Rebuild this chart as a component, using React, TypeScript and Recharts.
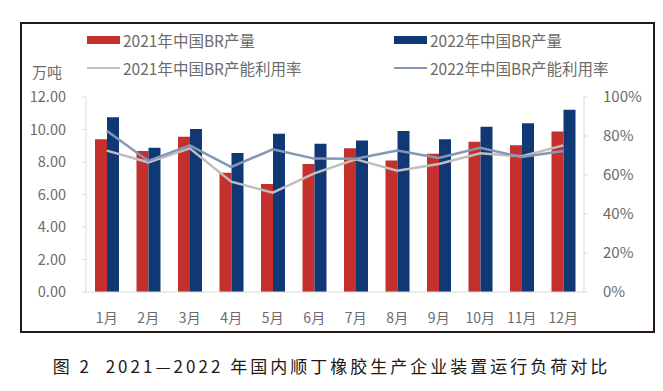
import React from 'react'
import {
  ComposedChart,
  Bar,
  Line,
  XAxis,
  YAxis,
} from 'recharts'

// Monthly BR output (10k t) and capacity utilisation (%)
const MONTHS = ['1月', '2月', '3月', '4月', '5月', '6月', '7月', '8月', '9月', '10月', '11月', '12月']
const OUTPUT_2021 = [9.4, 8.68, 9.56, 7.34, 6.65, 7.88, 8.84, 8.1, 8.51, 9.25, 9.03, 9.87]
const OUTPUT_2022 = [10.75, 8.88, 10.03, 8.55, 9.74, 9.13, 9.33, 9.91, 9.4, 10.17, 10.38, 11.22]
const UTIL_2021 = [72.5, 66.5, 73.7, 56.6, 50.9, 60.8, 68.0, 62.2, 65.6, 71.1, 69.6, 75.2]
const UTIL_2022 = [82.7, 67.2, 75.2, 64.1, 73.2, 68.4, 68.3, 72.5, 68.7, 74.0, 69.2, 72.3]
const LEFT_TICKS = [0, 2, 4, 6, 8, 10, 12]
const RIGHT_TICKS = [0, 20, 40, 60, 80, 100]

const RED = '#c4302b'
const NAVY = '#0f3875'
const GRAY_LINE = '#bfbfbf'
const BLUE_LINE = '#8497b6'
const TEXT = '#6b6b6b'
const FONT = '"Noto Sans CJK SC", "Noto Sans", sans-serif'

const data = MONTHS.map((m, i) => ({
  month: m,
  out21: OUTPUT_2021[i],
  out22: OUTPUT_2022[i],
  util21: UTIL_2021[i],
  util22: UTIL_2022[i],
}))

function LegendItem({ x, y, label, color, line }: { x: number; y: number; label: string; color: string; line?: boolean }) {
  return (
    <div style={{ position: 'absolute', left: x, top: y - 10, height: 20, display: 'flex', alignItems: 'center' }}>
      <span
        style={{
          display: 'inline-block',
          width: 33,
          height: line ? 2.5 : 8,
          backgroundColor: color,
          marginRight: 3,
        }}
      />
      <span style={{ fontSize: 15.5, color: TEXT, whiteSpace: 'nowrap' }}>{label}</span>
    </div>
  )
}

export default function App() {
  return (
    <div style={{ position: 'absolute', left: 0, top: 0, width: 663, height: 391, background: '#fff', fontFamily: FONT }}>
      {/* frame */}
      <div style={{ position: 'absolute', left: 20, top: 22, width: 631, height: 307, border: '2px solid #231815' }} />

      <LegendItem x={87} y={40} label="2021年中国BR产量" color={RED} />
      <LegendItem x={394} y={40} label="2022年中国BR产量" color={NAVY} />
      <LegendItem x={87} y={68} label="2021年中国BR产能利用率" color={GRAY_LINE} line />
      <LegendItem x={394} y={68} label="2022年中国BR产能利用率" color={BLUE_LINE} line />

      <div style={{ position: 'absolute', left: 32, top: 61, fontSize: 15, color: TEXT }}>万吨</div>

      <div style={{ position: 'absolute', left: 0, top: 0 }}>
        <ComposedChart
          width={663}
          height={340}
          data={data}
          margin={{ top: 97, right: 20, bottom: 8, left: 0 }}
          barGap={0}
          barCategoryGap={9}
        >
          <XAxis
            dataKey="month"
            tick={{ fontSize: 14, fill: TEXT, fontFamily: FONT }}
            tickLine={false}
            axisLine={{ stroke: '#d9d9d9' }}
            tickMargin={15}
            height={40}
            interval={0}
          />
          <YAxis
            yAxisId="left"
            domain={[0, 12]}
            ticks={LEFT_TICKS}
            tickFormatter={(v) => v.toFixed(2)}
            tick={{ fontSize: 14.5, fill: TEXT, fontFamily: FONT }}
            axisLine={{ stroke: '#d9d9d9' }}
            tickLine={{ stroke: '#d9d9d9' }}
            tickSize={4}
            tickMargin={16}
            width={86}
          />
          <YAxis
            yAxisId="right"
            orientation="right"
            domain={[0, 100]}
            ticks={RIGHT_TICKS}
            tickFormatter={(v) => `${v}%`}
            tick={{ fontSize: 15, fill: TEXT, fontFamily: FONT }}
            axisLine={{ stroke: '#d9d9d9' }}
            tickLine={{ stroke: '#d9d9d9' }}
            tickSize={4}
            tickMargin={15}
            width={59}
          />
          <Bar yAxisId="left" dataKey="out21" fill={RED} barSize={12} isAnimationActive={false} />
          <Bar yAxisId="left" dataKey="out22" fill={NAVY} barSize={12} isAnimationActive={false} />
          <Line yAxisId="right" dataKey="util21" stroke={GRAY_LINE} strokeWidth={2.5} dot={false} isAnimationActive={false} />
          <Line yAxisId="right" dataKey="util22" stroke={BLUE_LINE} strokeWidth={2.5} dot={false} isAnimationActive={false} />
        </ComposedChart>
      </div>

      <div
        style={{
          position: 'absolute',
          left: 0,
          width: 663,
          top: 353,
          textAlign: 'center',
          fontSize: 17,
          letterSpacing: 3,
          color: '#231815',
          fontFamily: '"Noto Sans CJK SC", sans-serif',
          whiteSpace: 'pre',
        }}
      >
        图 2  2021—2022 年国内顺丁橡胶生产企业装置运行负荷对比
      </div>
    </div>
  )
}
